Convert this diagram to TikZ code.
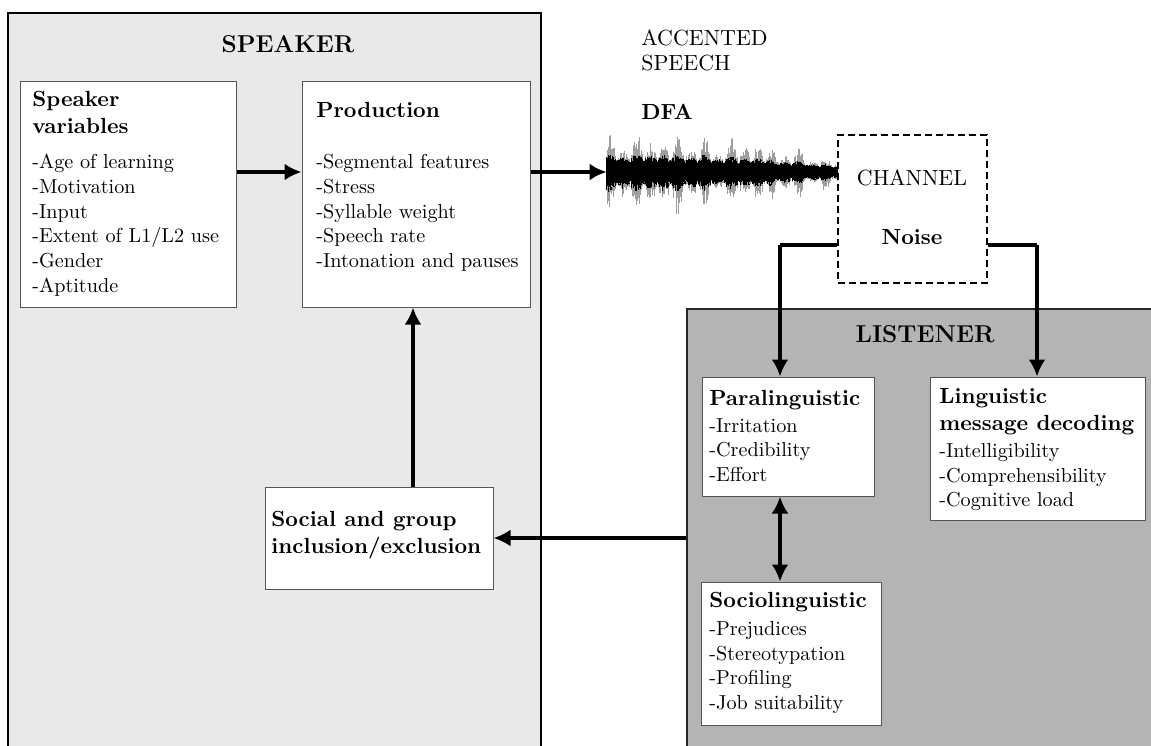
\documentclass[tikz,border=0pt]{standalone}
\usetikzlibrary{arrows.meta}
\definecolor{spkfill}{HTML}{E9E9E9}
\definecolor{lisfill}{HTML}{B4B4B4}
\definecolor{boxline}{HTML}{555555}
\tikzset{
  region/.style={draw=black, line width=1pt, inner sep=0pt},
  itembox/.style={draw=boxline, line width=0.5pt, fill=white, inner sep=0pt},
  chanbox/.style={draw=black, line width=0.9pt, dash pattern=on 3.5pt off 2pt, fill=white, inner sep=0pt},
  itemtxt/.style={anchor=north west, inner sep=0pt, align=left, font=\fontsize{10.1}{12.35}\selectfont},
  headtxt/.style={anchor=north west, inner sep=0pt, align=left, font=\fontsize{10.95}{13.6}\selectfont\bfseries},
  bigtitle/.style={inner sep=0pt, font=\fontsize{12.2}{14.5}\selectfont\bfseries},
  plaintxt/.style={inner sep=0pt, align=left, font=\fontsize{10.95}{12.5}\selectfont},
  arr/.style={line width=2.25pt, -{Latex[length=8.5pt,width=8.5pt]}},
  darr/.style={line width=2.25pt, {Latex[length=8.5pt,width=8.5pt]}-{Latex[length=8.5pt,width=8.5pt]}},
  conn/.style={line width=2.25pt},
}
\begin{document}
\begin{tikzpicture}[x=0.5pt,y=-0.5pt]
\useasboundingbox (0,0) rectangle (1151,745);
\clip (0,0) rectangle (1151,745);
\fill[white] (0,0) rectangle (1151,745);

% regions
\node[region, fill=spkfill, minimum width=266.5pt, minimum height=373.5pt] (speaker) at (274.5,386.5) {};
\node[region, draw=black!85, fill=lisfill, minimum width=239pt, minimum height=225.5pt] (listener) at (926,534.5) {};
\node[bigtitle] (spktitle) at (288,44) {SPEAKER};
\node[bigtitle] (listitle) at (925,334) {LISTENER};

% speaker boxes
\node[itembox, minimum width=108pt, minimum height=113pt] (spkvar) at (128,194) {};
\node[headtxt] (spkvarh) at (32,91) {Speaker\\variables};
\node[itemtxt] (spkvari) at (32,154) {-Age of learning\\-Motivation\\-Input\\-Extent of L1/L2 use\\-Gender\\-Aptitude};

\node[itembox, minimum width=114pt, minimum height=113pt] (prod) at (416,194) {};
\node[headtxt] (prodh) at (316,102) {Production};
\node[itemtxt] (prodi) at (316,154) {-Segmental features\\-Stress\\-Syllable weight\\-Speech rate\\-Intonation and pauses};

\node[itembox, minimum width=114pt, minimum height=51pt] (social) at (379,538) {};
\node[headtxt] (socialh) at (271,511) {Social and group\\inclusion/exclusion};

% accented speech
\node[plaintxt, anchor=north west] (acc) at (641,29) {ACCENTED\\SPEECH};
\node[headtxt] (dfa) at (641,104) {DFA};

% waveform
\node[inner sep=0pt, minimum width=115.5pt, minimum height=35pt] (wave) at (722.5,172) {};
\pgfmathsetseed{11}
\foreach \x in {607,607.5,...,838} {
  \pgfmathsetmacro\t{(\x-607)/231}
  \pgfmathsetmacro\base{17-11*\t^2.5}
  \pgfmathsetmacro\k{floor((\x-603.25)/13.5)}
  \pgfmathsetmacro\ph{(\x-603.25)/13.5-\k}
  \pgfmathsetmacro\w{0.3+0.7*abs(sin(\k*77.7+90))}
  \pgfmathsetmacro\bump{\w*sin(180*\ph)}
  \pgfmathsetmacro\c{\base*(0.7+0.4*\bump)*(0.65+0.35*rnd)}
  \pgfmathsetmacro\cb{\c*(0.8+0.4*rnd)}
  \pgfmathsetmacro\s{\c*(1.05+1.4*\bump*rnd)}
  \pgfmathsetmacro\sb{\cb*(1.05+1.4*\bump*rnd)}
  \draw[black!38, line width=0.45pt] (\x,172-\s) -- (\x,172+\sb);
  \draw[black, line width=0.55pt] (\x,172-\c) -- (\x,172+\cb);
}

% channel
\node[chanbox, minimum width=74.5pt, minimum height=74pt] (channel) at (912.5,209) {};
\node[plaintxt] (chant) at (912,178) {CHANNEL};
\node[headtxt, anchor=center] (noise) at (912,237) {Noise};

% listener boxes
\node[itembox, minimum width=86pt, minimum height=59.5pt] (para) at (788,436.5) {};
\node[headtxt] (parah) at (709,390) {Paralinguistic};
\node[itemtxt] (parai) at (709,418) {-Irritation\\-Credibility\\-Effort};

\node[itembox, minimum width=107.5pt, minimum height=71.5pt] (ling) at (1037.5,448.5) {};
\node[headtxt] (lingh) at (939,388) {Linguistic\\message decoding};
\node[itemtxt] (lingi) at (939,443) {-Intelligibility\\-Comprehensibility\\-Cognitive load};

\node[itembox, minimum width=90pt, minimum height=71.5pt] (socio) at (791,653.5) {};
\node[headtxt] (socioh) at (709,592) {Sociolinguistic};
\node[itemtxt] (socioi) at (709,621) {-Prejudices\\-Stereotypation\\-Profiling\\-Job suitability};

% helper coordinates
\coordinate (rowA) at (0,172);
\coordinate (cornerL) at (780,245);
\coordinate (cornerR) at (1037,245);
\coordinate (colS) at (413,0);

% connectors
\draw[arr] (spkvar.east |- rowA) -- (prod.west |- rowA);
\draw[arr] (prod.east |- rowA) -- (wave.west);
\draw[conn] (channel.west |- cornerL) -- (cornerL);
\draw[arr] (cornerL) -- (cornerL |- para.north);
\draw[conn] (channel.east |- cornerR) -- (cornerR);
\draw[arr] (cornerR) -- (cornerR |- ling.north);
\draw[darr] (para.south -| cornerL) -- (socio.north -| cornerL);
\draw[arr] (social.east -| listener.west) -- (social.east);
\draw[arr] (social.north -| colS) -- (prod.south -| colS);
\end{tikzpicture}
\end{document}
